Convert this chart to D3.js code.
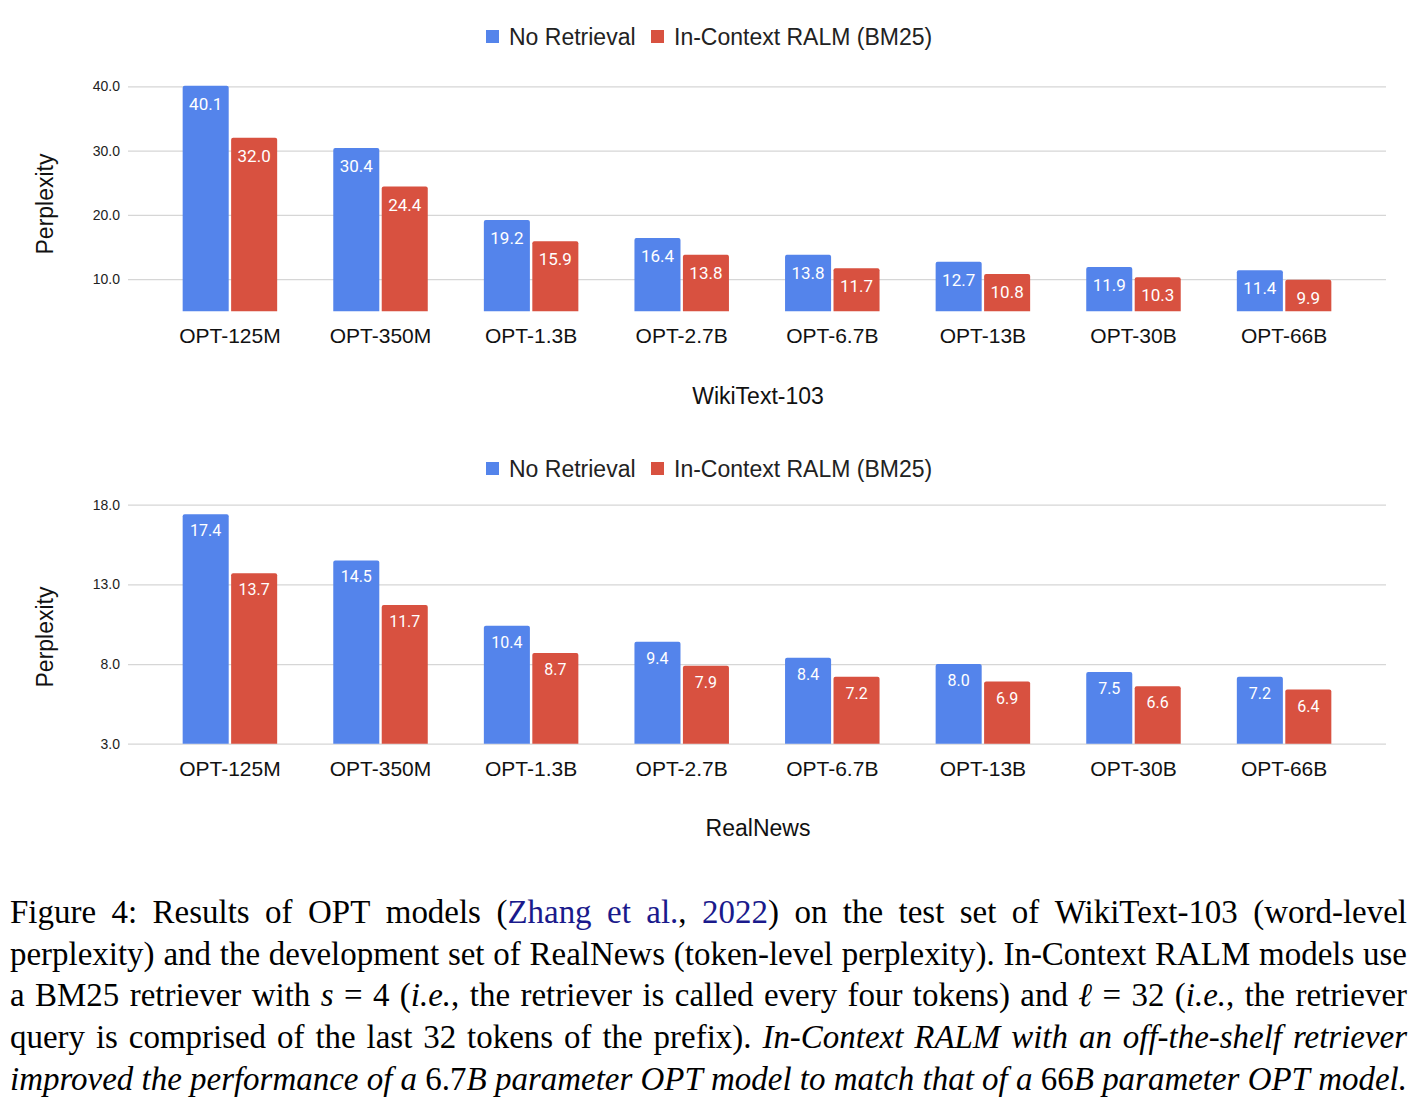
<!DOCTYPE html>
<html>
<head>
<meta charset="utf-8">
<script src="https://cdn.jsdelivr.net/npm/d3@7"></script>
<style>
  body { margin: 0; background: #fff; }
  svg text { font-family: "Liberation Sans", Arial, sans-serif; }
</style>
</head>
<body>
<div class="chart"></div>
<script>
// data
const models = ['OPT-125M', 'OPT-350M', 'OPT-1.3B', 'OPT-2.7B', 'OPT-6.7B', 'OPT-13B', 'OPT-30B', 'OPT-66B'];
const seriesNames = ['No Retrieval', 'In-Context RALM (BM25)'];

const wikiNoRetrieval = [40.1, 30.4, 19.2, 16.4, 13.8, 12.7, 11.9, 11.4];
const wikiRalm = [32.0, 24.4, 15.9, 13.8, 11.7, 10.8, 10.3, 9.9];
const wikiTicks = [10, 20, 30, 40];

const newsNoRetrieval = [17.4, 14.5, 10.4, 9.4, 8.4, 8.0, 7.5, 7.2];
const newsRalm = [13.7, 11.7, 8.7, 7.9, 7.2, 6.9, 6.6, 6.4];
const newsTicks = [3, 8, 13, 18];

const colors = ['#5484EB', '#D85140'];

const width = 1424, height = 1108;

const svg = d3.select('.chart')
  .append('svg')
    .attr('width', width)
    .attr('height', height);

let x0 = d3.scaleBand()
  .domain(models)
  .range([128, 1386])
  .paddingInner(0.3725)
  .paddingOuter(0.363);

let x1 = d3.scaleBand()
  .domain(seriesNames)
  .range([0, x0.bandwidth()])
  .paddingInner(0.05);

// one panel
function drawPanel(opt) {
  const g = svg.append('g');
  const y = d3.scaleLinear().domain(opt.domain).range(opt.range);

  // legend
  const lg = g.append('g');
  const legendX = [486, 651];
  seriesNames.forEach((s, i) => {
    lg.append('rect')
      .attr('x', legendX[i]).attr('y', opt.legendY - 7)
      .attr('width', 13).attr('height', 13)
      .attr('fill', colors[i]);
    lg.append('text')
      .attr('x', legendX[i] + 23).attr('y', opt.legendY + 8)
      .attr('font-size', 23)
      .attr('fill', '#222')
      .text(s);
  });

  // grid + ticks
  const yAxis = d3.axisLeft(y)
    .tickValues(opt.ticks)
    .tickFormat(d3.format('.1f'))
    .tickSize(-(1386 - 128))
    .tickPadding(8);
  const ax = g.append('g')
    .attr('transform', 'translate(128,0)')
    .call(yAxis);
  ax.select('.domain').remove();
  ax.selectAll('.tick line').attr('stroke', '#d6d6d6').attr('stroke-width', 1.2);
  ax.selectAll('.tick text')
    .attr('font-size', 14)
    .attr('fill', '#222')
    .attr('font-family', '"Liberation Sans", Arial, sans-serif');

  // y title
  g.append('text')
    .attr('transform', `translate(53, ${opt.titleY}) rotate(-90)`)
    .attr('text-anchor', 'middle')
    .attr('font-size', 23)
    .attr('fill', '#111')
    .text('Perplexity');

  // bars
  const rows = models.map((m, i) => ({ model: m, vals: [opt.a[i], opt.b[i]] }));
  const groups = g.selectAll('.grp')
    .data(rows)
    .enter()
    .append('g')
      .attr('transform', d => `translate(${x0(d.model)},0)`);

  const base = y(opt.domain[0]);
  const r = 2;
  groups.selectAll('path')
    .data(d => d.vals.map((v, i) => ({ v, s: seriesNames[i], i })))
    .enter()
    .append('path')
      .attr('d', d => {
        const x = x1(d.s), w = x1.bandwidth(), t = y(d.v);
        return `M${x},${base}V${t + r}Q${x},${t} ${x + r},${t}H${x + w - r}Q${x + w},${t} ${x + w},${t + r}V${base}Z`;
      })
      .attr('fill', d => colors[d.i]);

  groups.selectAll('.val')
    .data(d => d.vals.map((v, i) => ({ v, s: seriesNames[i], i })))
    .enter()
    .append('text')
      .attr('x', d => x1(d.s) + x1.bandwidth() / 2)
      .attr('y', d => y(d.v) + opt.valOff)
      .attr('text-anchor', 'middle')
      .attr('font-size', opt.valSize)
      .style('font-family', 'Roboto, sans-serif')
      .attr('fill', '#fff')
      .text(d => d3.format('.1f')(d.v));

  // category labels
  g.selectAll('.cat')
    .data(models)
    .enter()
    .append('text')
      .attr('x', d => x0(d) + x0.bandwidth() / 2)
      .attr('y', base + 32)
      .attr('text-anchor', 'middle')
      .attr('font-size', 21)
      .attr('fill', '#111')
      .text(d => d);

  // x title
  g.append('text')
    .attr('x', 758)
    .attr('y', opt.xTitleY)
    .attr('text-anchor', 'middle')
    .attr('font-size', 23)
    .attr('fill', '#111')
    .text(opt.xTitle);
}

drawPanel({
  a: wikiNoRetrieval, b: wikiRalm, ticks: wikiTicks,
  domain: [5, 40], range: [311.3, 86.3],
  legendY: 37, titleY: 204, xTitle: 'WikiText-103', xTitleY: 404, valSize: 17, valOff: 24
});

drawPanel({
  a: newsNoRetrieval, b: newsRalm, ticks: newsTicks,
  domain: [3, 18], range: [743.7, 504.7],
  legendY: 469, titleY: 637, xTitle: 'RealNews', xTitleY: 836, valSize: 16, valOff: 22
});

// caption, justified line by line
// n = normal, i = italic, l = link
const captionLines = [
  [['n', 'Figure 4:  Results of OPT models ('], ['l', 'Zhang et al.'], ['n', ', '], ['l', '2022'], ['n', ') on the test set of WikiText-103 (word-level']],
  [['n', 'perplexity) and the development set of RealNews (token-level perplexity). In-Context RALM models use']],
  [['n', 'a BM25 retriever with '], ['i', 's'], ['n', ' = 4 ('], ['i', 'i.e.'], ['n', ', the retriever is called every four tokens) and '], ['i', 'ℓ'], ['n', ' = 32 ('], ['i', 'i.e.'], ['n', ', the retriever']],
  [['n', 'query is comprised of the last 32 tokens of the prefix). '], ['i', 'In-Context RALM with an off-the-shelf retriever']],
  [['i', 'improved the performance of a '], ['n', '6.7'], ['i', 'B parameter OPT model to match that of a '], ['n', '66'], ['i', 'B parameter OPT model.']]
];
const captionTop = 923, captionStep = 41.7, capLeft = 10, capRight = 1407;
const capBase = 30;

// split into words, each word a list of styled pieces
function toWords(line) {
  const words = [[]];
  line.forEach(([s, t]) => {
    t.split(/(\s+)/).forEach(part => {
      if (part === '') return;
      if (/^\s+$/.test(part)) { if (words[words.length - 1].length) words.push([]); }
      else words[words.length - 1].push([s, part]);
    });
  });
  return words.filter(w => w.length);
}

const capG = svg.append('g');
const lineWords = captionLines.map(toWords);

function layoutCaption(size) {
  capG.selectAll('*').remove();
  return lineWords.map(words => {
    const lineG = capG.append('g');
    const items = words.map(w => {
      const t = lineG.append('text')
        .attr('font-size', size)
        .style('font-family', '"Liberation Serif", "Times New Roman", serif')
        .attr('fill', '#000');
      w.forEach(([s, txt]) => {
        t.append('tspan')
          .attr('font-style', s === 'i' ? 'italic' : 'normal')
          .attr('fill', s === 'l' ? '#1a1a8c' : '#000')
          .text(txt);
      });
      return { node: t, w: t.node().getComputedTextLength() };
    });
    return { lineG, items };
  });
}

// pick a size so the widest line fills the width with normal word spaces
function naturalWidths(m, size) {
  return m.map(l => d3.sum(l.items, d => d.w) + size * 0.25 * (l.items.length - 1));
}
let measured = layoutCaption(capBase);
const capSize = Math.min(33, capBase * (capRight - capLeft) / d3.max(naturalWidths(measured, capBase)));
measured = layoutCaption(capSize);

measured.forEach((m, li) => {
  m.lineG.attr('transform', `translate(${capLeft},${captionTop + li * captionStep})`);
  const gap = (capRight - capLeft - d3.sum(m.items, d => d.w)) / (m.items.length - 1);
  let x = 0;
  m.items.forEach(it => {
    it.node.attr('x', x);
    x += it.w + gap;
  });
});
</script>
</body>
</html>
